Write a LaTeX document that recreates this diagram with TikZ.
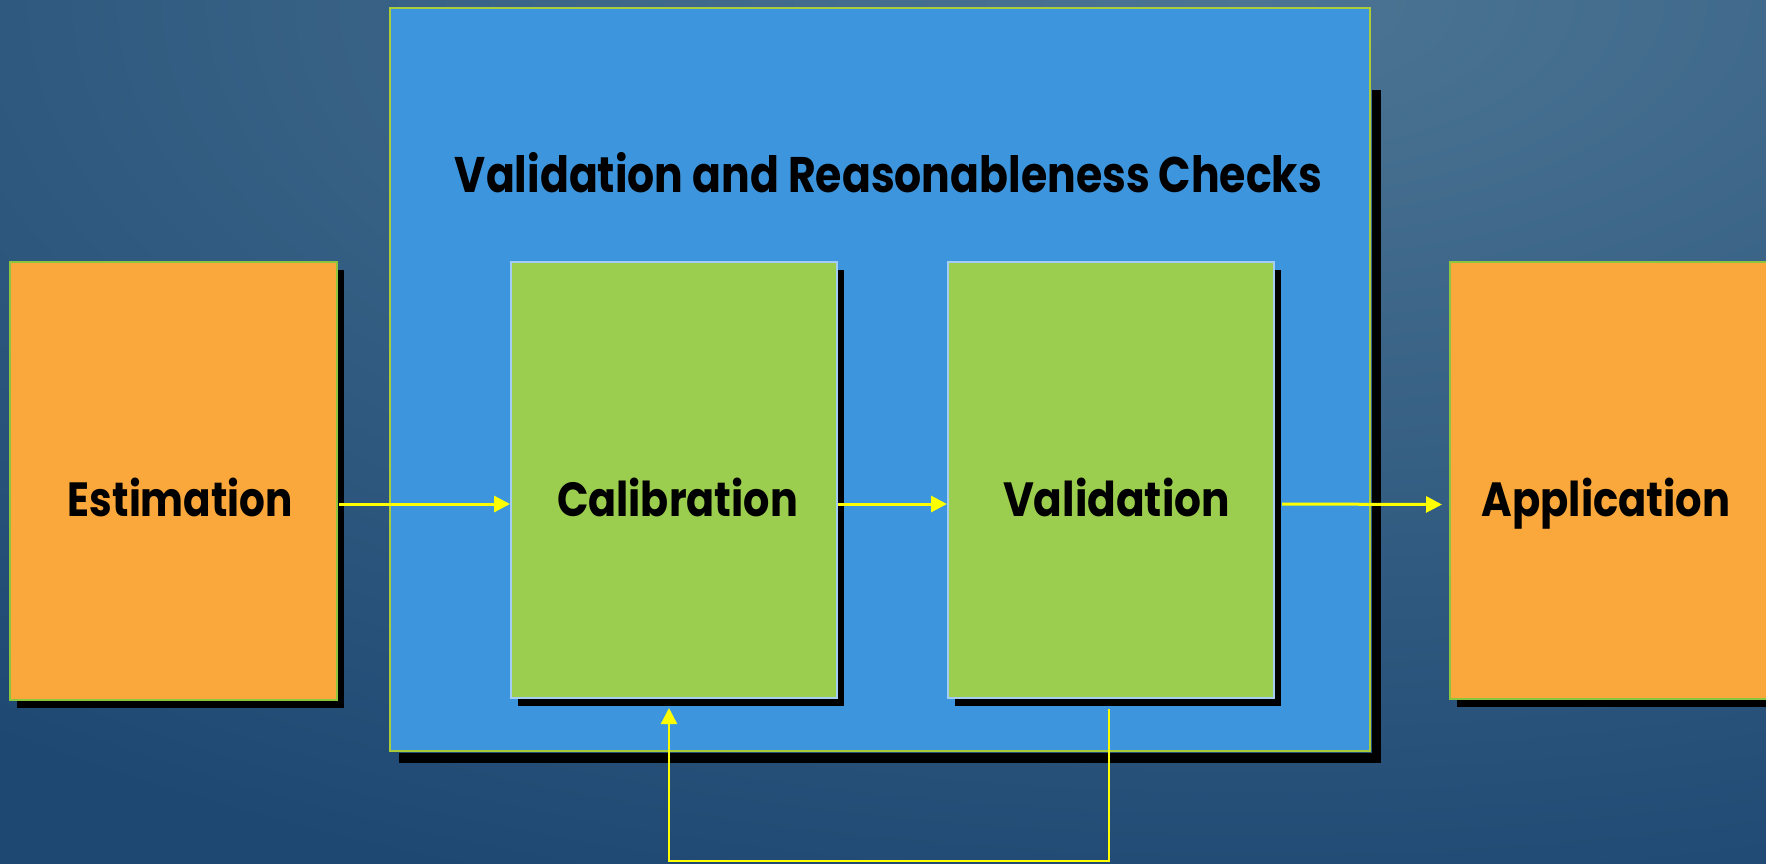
\documentclass[tikz,border=0pt]{standalone}
\usepackage{fontspec}
\usepackage{graphicx}
\newfontfamily\labelfont{Poppins}
\usetikzlibrary{arrows.meta,calc,shadows}

\definecolor{bgin}{HTML}{4C7594}
\definecolor{bgout}{HTML}{1E4872}
\definecolor{panelblue}{HTML}{3D96DD}
\definecolor{panelrim}{HTML}{AACC3A}
\definecolor{stageorange}{HTML}{FAA83B}
\definecolor{stagerim}{HTML}{8CC63E}
\definecolor{checkgreen}{HTML}{9BCD4E}
\definecolor{checkrim}{HTML}{A3CDF4}
\definecolor{flow}{HTML}{FFFF00}

% fit a bold label to a given width, keeping its height
\newcommand{\fitlabel}[2]{\resizebox{#1pt}{\height}{\labelfont\bfseries #2}}

\tikzset{
  boxbase/.style={rectangle, inner sep=0pt, line width=2pt,
    drop shadow={shadow xshift=7pt, shadow yshift=-8pt, fill=black, opacity=1}},
  stagebox/.style={boxbase, fill=stageorange, draw=stagerim},
  checkbox/.style={boxbase, fill=checkgreen, draw=checkrim},
  lbl/.style={inner sep=0pt, anchor=base, text=black, font=\fontsize{48}{48}\selectfont},
  ttl/.style={inner sep=0pt, anchor=base, text=black, font=\fontsize{50}{50}\selectfont},
  arr/.style={draw=flow, line width=3pt, -{Triangle[length=16pt, width=16pt]}},
  loopback/.style={arr, line width=2.5pt},
}

\begin{document}
\begin{tikzpicture}[x=1pt, y=-1pt]
\useasboundingbox (0,0) rectangle (1766,863);

% background: dark base with a soft light glow near the top
\fill[bgout] (-10,-10) rectangle (1776,873);
\shade[inner color=bgin, outer color=bgout] (1250,0) ellipse [x radius=2000pt, y radius=950pt];

% checks panel with its shadow
\node[rectangle, inner sep=0pt, minimum width=980pt, minimum height=743pt,
      fill=panelblue, draw=panelrim, line width=1.5pt] (chk) at (880,379.5) {};
\fill[black] ($(chk.south west)+(10,1)$) rectangle ($(chk.south east)+(10,11)$);
\fill[black] ($(chk.north east)+(1,83)$) rectangle ($(chk.south east)+(10,11)$);
\node[ttl] (title) at (888.5,192) {\fitlabel{867}{Validation and Reasonableness Checks}};

% stages
\node[stagebox, minimum width=327pt, minimum height=438pt] (est) at (173.5,481) {};
\node[checkbox, minimum width=326pt, minimum height=436pt] (cal) at (674,480) {};
\node[checkbox, minimum width=326pt, minimum height=436pt] (val) at (1111,480) {};
\node[stagebox, minimum width=330pt, minimum height=437pt] (app) at (1615,480.5) {};

\node[lbl] (estT) at (180.5,516) {\fitlabel{225}{Estimation}};
\node[lbl] (calT) at (677.5,516) {\fitlabel{241}{Calibration}};
\node[lbl] (valT) at (1116.5,516) {\fitlabel{227}{Validation}};
\node[lbl] (appT) at (1606,516) {\fitlabel{249}{Application}};

% flow
\draw[arr] ($(est.east)+(1,23)$) -- ($(cal.west)+(0,24)$);
\draw[arr] ($(cal.east)+(0,24)$) -- ($(val.west)+(0,24)$);
\draw[arr] ($(val.east)+(7,24)$) -- ($(app.west)+(-7,24)$);
\draw[loopback] ($(val.south)+(-2,10)$) -- ++(0,152) -| ($(cal.south)+(-5,9)$);
\end{tikzpicture}
\end{document}
